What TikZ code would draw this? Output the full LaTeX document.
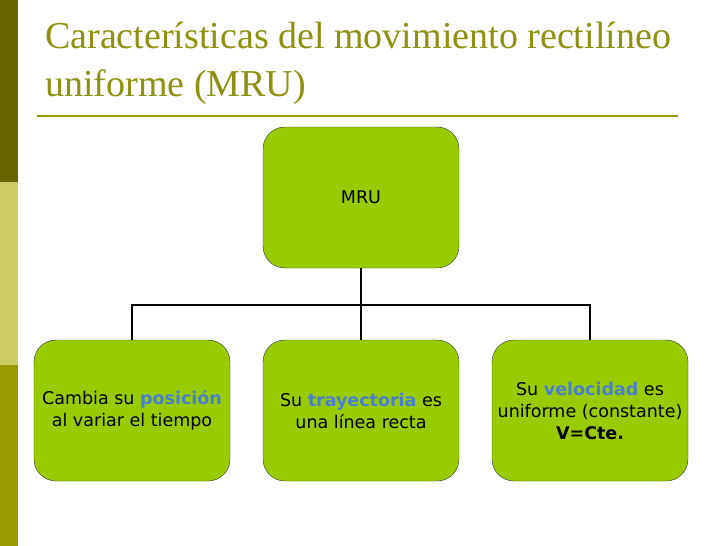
\documentclass[tikz,border=0pt]{standalone}
\usepackage{fontspec}
\setmainfont{Liberation Serif}
\newfontfamily\boxfont{DejaVu Sans}
\definecolor{olive1}{HTML}{666600}
\definecolor{olive2}{HTML}{CCCC66}
\definecolor{olive3}{HTML}{999900}
\definecolor{titlec}{HTML}{8F8F10}
\definecolor{boxg}{HTML}{99CC00}
\definecolor{kw}{HTML}{4A7FCF}
\begin{document}
\begin{tikzpicture}[x=1pt,y=-1pt,
  gbox/.style={draw=black!80,fill=boxg,rounded corners=22pt,minimum width=196pt,minimum height=141pt,align=center,font=\boxfont\fontsize{17.5}{22}\selectfont,inner sep=0pt},
  conn/.style={draw=black,line width=1.2pt}]
\useasboundingbox (0,0) rectangle (728,546);
\fill[olive1] (0,0) rectangle (18,182);
\fill[olive2] (0,182) rectangle (18,365);
\fill[olive3] (0,365) rectangle (18,546);
\node[anchor=north west,align=left,text=titlec,font=\fontsize{38}{48}\selectfont,inner sep=0pt] (title) at (45,22) {Características del movimiento rectilíneo\\uniforme (MRU)};
\draw[olive3,line width=2pt] (37,116) -- (678,116);
\node[gbox] (mru) at (361,197.5) {MRU};
\node[gbox] (a) at (132,410.5) {Cambia su \textcolor{kw}{\bfseries posición}\\ al variar el tiempo};
\node[gbox] (b) at (361,410.5) {Su \textcolor{kw}{\bfseries trayectoria} es\\una línea recta};
\node[gbox] (c) at (590,410.5) {Su \textcolor{kw}{\bfseries velocidad} es\\uniforme (constante)\\\textbf{V=Cte.}};
\coordinate (j) at (361,305);
\draw[conn] (mru.south) -- (j);
\draw[conn] (a.north) |- (j) -| (c.north);
\draw[conn] (j) -- (b.north);
\end{tikzpicture}
\end{document}
